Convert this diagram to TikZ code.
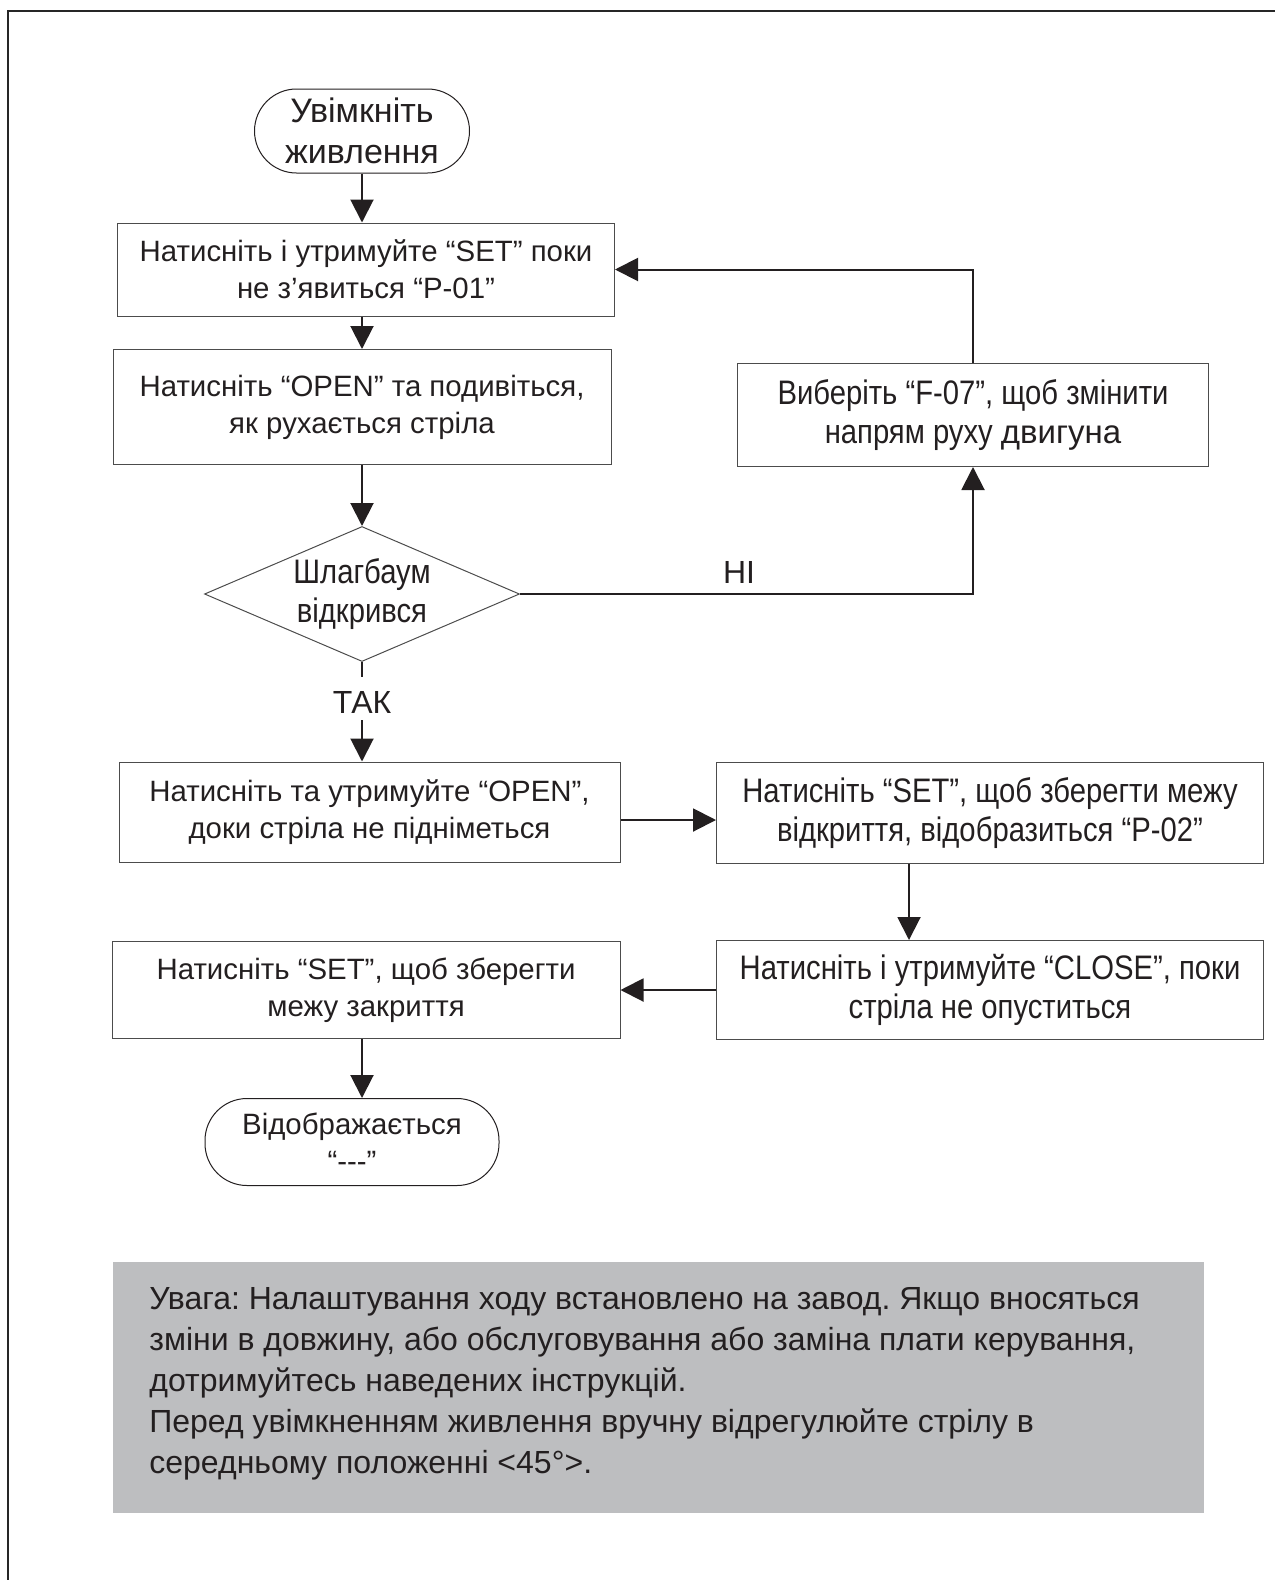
\documentclass[tikz,border=0pt]{standalone}
\usepackage{fontspec}
\setmainfont{Liberation Sans}
\newfontfamily\narrowfont[FakeStretch=0.86]{Liberation Sans}
\usetikzlibrary{arrows.meta,shapes.geometric}
\definecolor{ink}{RGB}{35,31,32}
\definecolor{notegray}{RGB}{189,190,192}
\newcommand{\boxfont}{\fontsize{14.7}{18.5}\selectfont}
\newcommand{\slimfont}{\narrowfont\fontsize{17}{19.5}\selectfont}
\frenchspacing

\begin{document}
\begin{tikzpicture}[x=0.5pt,y=-0.5pt,
    every node/.style={text=ink},
    stepbox/.style={draw=black!70, line width=0.5pt, align=center, inner sep=0pt, font=\boxfont},
    slimbox/.style={stepbox, font=\slimfont},
    term/.style={draw=ink, line width=0.5pt, rounded corners=21pt, align=center, inner sep=0pt},
    flow/.style={draw=ink, line width=1pt, -{Triangle[length=11.5pt,width=11.5pt]}},
    tag/.style={font=\fontsize{16}{19}\selectfont}]
    \useasboundingbox (0,0) rectangle (1275,1580);
    \draw[black!85, line width=1pt] (8,1580) -- (8,11) -- (1275,11);

    \node[term, minimum width=107.5pt, minimum height=42pt, font=\fontsize{17}{20.5}\selectfont] (pwr) at (362,131) {Увімкніть\\живлення};
    \node[stepbox, minimum width=248.5pt, minimum height=46.5pt] (p01) at (366,269.5) {Натисніть і утримуйте “SET” поки\\не з’явиться “P-01”};
    \node[stepbox, minimum width=249pt, minimum height=57.5pt] (look) at (362,407) {Натисніть “OPEN” та подивіться,\\як рухається стріла};
    \node[slimbox, minimum width=235.5pt, minimum height=51.5pt] (f07) at (973,415) {Виберіть “F-07”, щоб змінити\\напрям руху {\fontsize{16.5}{19.5}\selectfont\rmfamily двигуна}};
    \node[diamond, draw=black!70, line width=0.5pt, inner sep=0pt, aspect=2.33, minimum width=157.5pt, minimum height=67.5pt, align=center, font=\slimfont] (gate) at (362,594) {Шлагбаум\\відкрився};
    \node[tag] (no) at (739,572) {НІ};
    \node[tag] (yes) at (362,702) {ТАК};
    \coordinate (gateTail) at (362,677);

    \node[stepbox, minimum width=250.5pt, minimum height=50pt] (up) at (369.5,812) {Натисніть та утримуйте “OPEN”,\\доки стріла не підніметься};
    \node[slimbox, minimum width=273.5pt, minimum height=50.5pt] (p02) at (990,813) {Натисніть “SET”, щоб зберегти межу\\відкриття, відобразиться “P-02”};
    \node[slimbox, minimum width=273.5pt, minimum height=49.5pt] (down) at (990,990) {Натисніть і утримуйте “CLOSE”, поки\\стріла не опуститься};
    \node[stepbox, minimum width=254pt, minimum height=48.5pt] (save) at (366,990) {Натисніть “SET”, щоб зберегти\\межу закриття};
    \node[term, minimum width=147pt, minimum height=43.5pt, font=\boxfont] (done) at (352,1142) {Відображається\\“{-}{-}{-}”};

    \draw[flow] (pwr) -- (p01.north -| pwr);
    \draw[flow] (p01.south -| pwr) -- (look.north -| pwr);
    \draw[flow] (look.south -| pwr) -- (gate.north);
    \draw[flow] (gate.east) -- (gate.east -| f07.south) -- (f07.south);
    \draw[flow] (f07.north) -- (f07.north |- p01.east) -- (p01.east);
    \draw[draw=ink, line width=1pt] (gate.south) -- (gateTail);
    \draw[flow] (yes.south) -- (up.north -| yes);
    \draw[flow] ([yshift=-4pt]up.east) -- ([yshift=-4pt]up.east -| p02.west);
    \draw[flow] (909,864) coordinate (p02Out) -- (p02Out |- down.north);
    \draw[flow] (down.west) -- (down.west -| save.east);
    \draw[flow] (save.south -| pwr) -- (done.north -| pwr);

    \fill[notegray] (113,1262) rectangle (1204,1513);
    \node[anchor=north west, align=left, inner sep=0pt, font=\fontsize{16}{20.5}\selectfont] (note) at (149,1287) {Увага: Налаштування ходу встановлено на завод. Якщо вносяться\\зміни в довжину, або обслуговування або заміна плати керування,\\дотримуйтесь наведених інструкцій.\\Перед увімкненням живлення вручну відрегулюйте стрілу в\\середньому положенні <45°>.};
\end{tikzpicture}
\end{document}
